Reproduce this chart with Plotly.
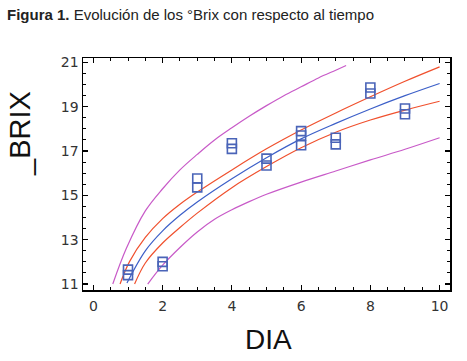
import plotly.graph_objects as go

# Observed data (DIA, _BRIX)
dia = [1, 1, 2, 2, 3, 3, 4, 4, 5, 5, 6, 6, 6, 7, 7, 8, 8, 9, 9]
brix = [11.4, 11.65, 11.8, 12.0, 15.36, 15.76, 17.1, 17.35, 16.35, 16.66,
        17.26, 17.7, 17.9, 17.3, 17.6, 19.6, 19.87, 18.66, 18.92]

# Fitted curve
fit_x = [0.97, 1.5, 2.0, 2.5, 3.0, 4.0, 5.0, 6.0, 7.0, 8.0, 9.0, 10.0]
fit_y = [11.05, 12.5, 13.4, 14.1, 14.7, 15.75, 16.7, 17.55, 18.25, 18.9, 19.5, 20.05]

# Confidence limits (orange)
cu_x = [0.77, 1.04, 1.5, 2.0, 2.5, 3.0, 4.0, 5.0, 6.0, 7.0, 8.0, 9.0, 10.0]
cu_y = [11.0, 12.0, 13.1, 13.95, 14.6, 15.15, 16.15, 17.1, 17.95, 18.72, 19.45, 20.15, 20.8]
cl_x = [1.19, 1.5, 2.0, 2.5, 3.0, 4.0, 5.0, 6.0, 7.0, 8.0, 9.0, 10.0]
cl_y = [11.0, 11.95, 12.85, 13.55, 14.2, 15.35, 16.3, 17.15, 17.85, 18.4, 18.85, 19.25]

# Prediction limits (magenta)
pu_x = [0.56, 0.95, 1.5, 2.0, 2.5, 3.0, 3.5, 4.0, 4.5, 5.0, 5.5, 6.0, 6.5, 7.0, 7.3]
pu_y = [11.0, 12.6, 14.3, 15.3, 16.15, 16.85, 17.5, 18.05, 18.57, 19.05, 19.5, 19.9, 20.3, 20.65, 20.86]
pl_x = [1.57, 2.0, 2.5, 3.0, 3.5, 4.0, 4.5, 5.0, 6.0, 7.0, 8.0, 9.0, 10.0]
pl_y = [11.0, 11.85, 12.65, 13.35, 13.92, 14.35, 14.72, 15.05, 15.6, 16.1, 16.6, 17.08, 17.6]

x_ticks = [0, 2, 4, 6, 8, 10]
y_ticks = [11, 13, 15, 17, 19, 21]

MAG = "#c85ac8"
ORA = "#f0502d"
BLU = "#3c5fc8"

fig = go.Figure()
for xs, ys, col in [(pu_x, pu_y, MAG), (pl_x, pl_y, MAG),
                    (cu_x, cu_y, ORA), (cl_x, cl_y, ORA),
                    (fit_x, fit_y, BLU)]:
    fig.add_trace(go.Scatter(x=xs, y=ys, mode="lines",
                             line=dict(color=col, width=1.2, shape="spline", smoothing=1.0),
                             showlegend=False, hoverinfo="skip"))

fig.add_trace(go.Scatter(x=dia, y=brix, mode="markers",
                         marker=dict(symbol="square-open", size=9,
                                     color="#4a64b8", line=dict(width=1.6)),
                         showlegend=False))

axis_common = dict(showgrid=False, zeroline=False, showline=True,
                   linecolor="black", linewidth=1.5, mirror="allticks",
                   ticks="inside", ticklen=5, tickwidth=1.2, tickcolor="black",
                   tickfont=dict(family="DejaVu Sans, Verdana, sans-serif",
                                 size=14, color="#333333"))

fig.update_xaxes(range=[-0.3, 10.3], tickvals=x_ticks, ticklabelstandoff=3,
                 minor=dict(dtick=0.5, ticks="inside", ticklen=3,
                            tickcolor="black", tickwidth=1),
                 **axis_common)
fig.update_yaxes(range=[10.73, 21.2], tickvals=y_ticks,
                 minor=dict(dtick=0.5, ticks="inside", ticklen=3,
                            tickcolor="black", tickwidth=1),
                 **axis_common)

# Axis titles
fig.add_annotation(text="DIA", xref="paper", yref="paper", x=0.5, y=0,
                   yanchor="middle", xanchor="center", yshift=-49, xshift=2,
                   showarrow=False,
                   font=dict(family="Liberation Sans, Arial, sans-serif", size=28, color="#111111"))
fig.add_annotation(text="_BRIX", xref="paper", yref="paper", x=0, y=1,
                   textangle=-90, xanchor="center", yanchor="middle",
                   xshift=-63, yshift=-76, showarrow=False,
                   font=dict(family="Liberation Sans, Arial, sans-serif", size=29, color="#111111"))

fig.add_annotation(
    text="<b>Figura 1.</b> Evolución de los °Brix con respecto al tiempo",
    xref="paper", yref="paper", x=0, y=1.0, yanchor="middle", xanchor="left",
    xshift=-78, yshift=44, showarrow=False,
    font=dict(family="Liberation Sans Narrow, Arial Narrow, Liberation Sans, sans-serif",
              size=15, color="#222222"))

fig.update_layout(width=467, height=361,
                  margin=dict(l=83, r=17, t=58, b=71),
                  paper_bgcolor="white", plot_bgcolor="white")

# Remove the default 8px page margin so the figure fills the window exactly.
fig.write_html("out.html",
               config={"displayModeBar": False, "staticPlot": True},
               post_script="document.body.style.margin='0';document.documentElement.style.overflow='hidden';")
